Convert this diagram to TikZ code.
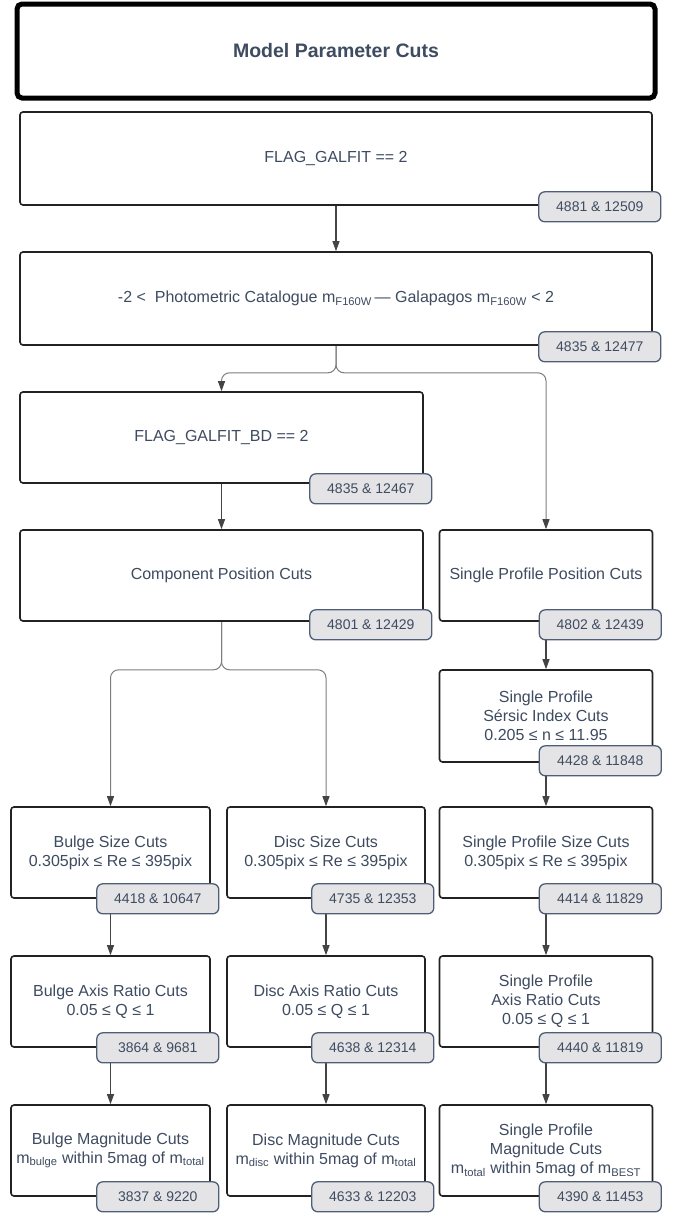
\documentclass[tikz,border=0pt]{standalone}
\usepackage{fontspec}
\setmainfont{Liberation Sans}
\usetikzlibrary{arrows.meta}
\usetikzlibrary{backgrounds}

\definecolor{txtcol}{RGB}{62,75,96}
\definecolor{badgefill}{RGB}{228,228,230}
\definecolor{badgeline}{RGB}{78,94,118}
\definecolor{boxline}{RGB}{34,34,34}
\definecolor{arrcol}{RGB}{68,68,68}
\definecolor{brcol}{RGB}{125,125,125}

\begin{document}
\begin{tikzpicture}[x=1pt, y=-1pt,
  titlebox/.style={draw=black, line width=5pt, rounded corners=5pt, fill=white, text=txtcol,
    font=\fontsize{19.5}{23}\selectfont\bfseries, minimum width=638pt, minimum height=94pt},
  cutbox/.style={draw=boxline, line width=1.6pt, rounded corners=3pt, fill=white, align=center,
    inner sep=0pt, text=txtcol, font=\fontsize{16}{19}\selectfont},
  countbox/.style={draw=badgeline, line width=1.3pt, rounded corners=6pt, fill=badgefill, text=txtcol,
    inner sep=0pt, minimum width=122pt, minimum height=30pt, font=\fontsize{14}{16}\selectfont},
  flow/.style={draw=arrcol, line width=1.1pt, -{Triangle[length=10pt,width=7pt]}},
  split/.style={draw=brcol, line width=1pt, rounded corners=8pt, -{Triangle[length=10pt,width=7pt,color=arrcol]}}
]
  \useasboundingbox (0,0) rectangle (681,1216);

  % Title
  \node[titlebox] (title) at (336,51) {Model Parameter Cuts};

  % Common cuts
  \node[cutbox, minimum width=632pt, minimum height=93pt] (galfit) at (336,158.5) {FLAG\_GALFIT == 2};
  \node[cutbox, minimum width=632pt, minimum height=93pt] (magdiff) at (336,298.5)
    {-2 <\ \ Photometric Catalogue m\textsubscript{F160W}\,— Galapagos m\textsubscript{F160W} < 2};

  % Two component branch
  \node[cutbox, minimum width=403pt, minimum height=91pt] (galfitbd) at (221.5,437.5) {FLAG\_GALFIT\_BD == 2};
  \node[cutbox, minimum width=403pt, minimum height=91pt] (comppos) at (221.5,575.5) {Component Position Cuts};

  % Single profile branch
  \node[cutbox, minimum width=213pt, minimum height=91pt] (sppos) at (546,575.5) {Single Profile Position Cuts};
  \node[cutbox, minimum width=213pt, minimum height=92pt] (spsersic) at (546,716)
    {Single Profile\\Sérsic Index Cuts\\0.205 ≤ n ≤ 11.95};

  % Size cuts
  \node[cutbox, minimum width=199pt, minimum height=91pt] (bulgesize) at (110.5,852.5)
    {Bulge Size Cuts\\0.305pix ≤ Re ≤ 395pix};
  \node[cutbox, minimum width=198pt, minimum height=91pt] (discsize) at (326,852.5)
    {Disc Size Cuts\\0.305pix ≤ Re ≤ 395pix};
  \node[cutbox, minimum width=213pt, minimum height=91pt] (spsize) at (546,852.5)
    {Single Profile Size Cuts\\0.305pix ≤ Re ≤ 395pix};

  % Axis ratio cuts
  \node[cutbox, minimum width=199pt, minimum height=91pt] (bulgeaxis) at (110.5,1001.5)
    {Bulge Axis Ratio Cuts\\0.05 ≤ Q ≤ 1};
  \node[cutbox, minimum width=198pt, minimum height=91pt] (discaxis) at (326,1001.5)
    {Disc Axis Ratio Cuts\\0.05 ≤ Q ≤ 1};
  \node[cutbox, minimum width=213pt, minimum height=91pt] (spaxis) at (546,1001.5)
    {Single Profile\\Axis Ratio Cuts\\0.05 ≤ Q ≤ 1};

  % Magnitude cuts
  \node[cutbox, minimum width=199pt, minimum height=91pt] (bulgemag) at (110.5,1150.5)
    {Bulge Magnitude Cuts\\m\textsubscript{bulge} within 5mag of m\textsubscript{total}};
  \node[cutbox, minimum width=198pt, minimum height=91pt] (discmag) at (326,1150.5)
    {Disc Magnitude Cuts\\m\textsubscript{disc} within 5mag of m\textsubscript{total}};
  \node[cutbox, minimum width=213pt, minimum height=91pt] (spmag) at (546,1150.5)
    {Single Profile\\Magnitude Cuts\\m\textsubscript{total} within 5mag of m\textsubscript{BEST}};

  % Galaxy counts after each cut
  \node[countbox] (galfitn) at ([shift={(-53,1)}]galfit.south east) {4881 \& 12509};
  \node[countbox] (magdiffn) at ([shift={(-53,1)}]magdiff.south east) {4835 \& 12477};
  \node[countbox] (galfitbdn) at ([shift={(-53,5)}]galfitbd.south east) {4835 \& 12467};
  \node[countbox] (compposn) at ([shift={(-53,3)}]comppos.south east) {4801 \& 12429};
  \node[countbox] (spposn) at ([shift={(-53,3)}]sppos.south east) {4802 \& 12439};
  \node[countbox] (spsersicn) at ([shift={(-53,-2)}]spsersic.south east) {4428 \& 11848};
  \node[countbox] (bulgesizen) at ([shift={(-53,0)}]bulgesize.south east) {4418 \& 10647};
  \node[countbox] (discsizen) at ([shift={(-53,0)}]discsize.south east) {4735 \& 12353};
  \node[countbox] (spsizen) at ([shift={(-53,0)}]spsize.south east) {4414 \& 11829};
  \node[countbox] (bulgeaxisn) at ([shift={(-53,0)}]bulgeaxis.south east) {3864 \& 9681};
  \node[countbox] (discaxisn) at ([shift={(-53,0)}]discaxis.south east) {4638 \& 12314};
  \node[countbox] (spaxisn) at ([shift={(-53,0)}]spaxis.south east) {4440 \& 11819};
  \node[countbox] (bulgemagn) at ([shift={(-53,0)}]bulgemag.south east) {3837 \& 9220};
  \node[countbox] (discmagn) at ([shift={(-53,0)}]discmag.south east) {4633 \& 12203};
  \node[countbox] (spmagn) at ([shift={(-53,0)}]spmag.south east) {4390 \& 11453};

  % Connectors go behind the boxes
  \begin{scope}[on background layer]
    \coordinate (fork1) at ([yshift=-27pt]magdiff.south);
    \coordinate (fork2) at ([yshift=-48pt]comppos.south);

    \draw[flow] (galfit) -- (magdiff);
    \draw[split] (magdiff.south) -- (fork1) -- (fork1 -| galfitbd.north) -- (galfitbd.north);
    \draw[split] (magdiff.south) -- (fork1) -- (fork1 -| sppos.north) -- (sppos.north);
    \draw[flow] (galfitbd) -- (comppos);
    \draw[split] (comppos.south) -- (fork2) -- (fork2 -| bulgesize.north) -- (bulgesize.north);
    \draw[split] (comppos.south) -- (fork2) -- (fork2 -| discsize.north) -- (discsize.north);

    \draw[flow] (sppos) -- (spsersic);
    \draw[flow] (spsersic) -- (spsize);
    \draw[flow] (bulgesize) -- (bulgeaxis);
    \draw[flow] (discsize) -- (discaxis);
    \draw[flow] (spsize) -- (spaxis);
    \draw[flow] (bulgeaxis) -- (bulgemag);
    \draw[flow] (discaxis) -- (discmag);
    \draw[flow] (spaxis) -- (spmag);
  \end{scope}
\end{tikzpicture}
\end{document}
